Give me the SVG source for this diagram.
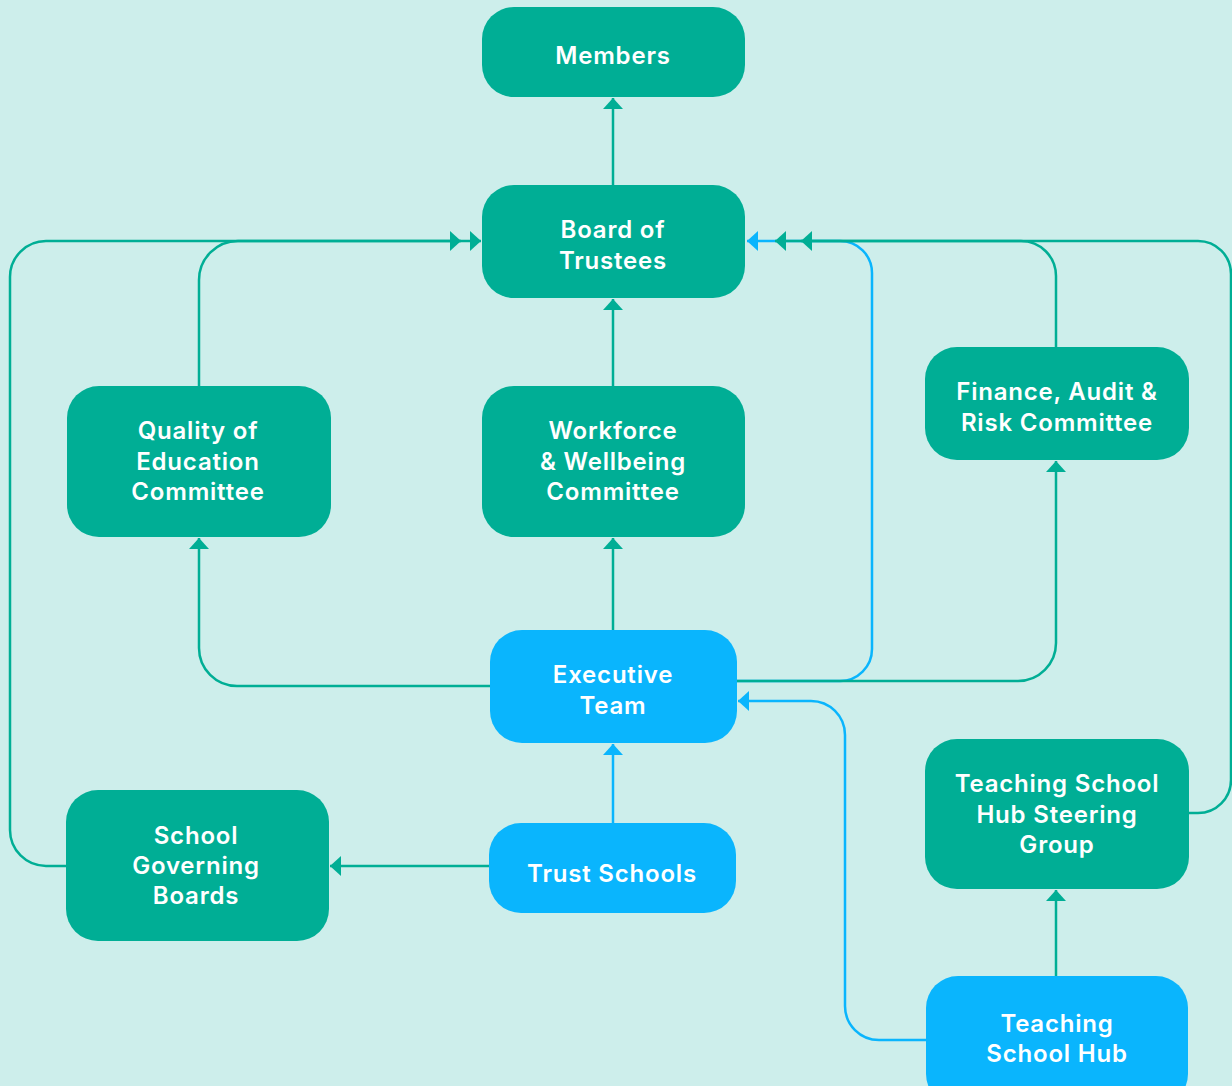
<svg xmlns="http://www.w3.org/2000/svg" width="1232" height="1086" viewBox="0 0 1232 1086">
<style>
.g{fill:#00ae95}
.b{fill:#0ab5fd}
.t{font-family:Inter,"Open Sans","Liberation Sans",sans-serif;font-weight:600;font-size:24px;letter-spacing:0.8px;fill:#ffffff;text-anchor:middle}
.cg{fill:none;stroke:#00ae95;stroke-width:2.5}
.cb{fill:none;stroke:#0ab5fd;stroke-width:2.5}
</style>
<defs>
<marker id="ag" markerUnits="userSpaceOnUse" markerWidth="12" markerHeight="20" refX="11" refY="10" orient="auto"><path d="M0,0 L11,10 L0,20 z" fill="#00ae95"/></marker>
<marker id="ab" markerUnits="userSpaceOnUse" markerWidth="12" markerHeight="20" refX="11" refY="10" orient="auto"><path d="M0,0 L11,10 L0,20 z" fill="#0ab5fd"/></marker>
</defs>
<rect width="1232" height="1086" fill="#cdeeeb"/>
<g id="connectors">
<path class="cb" d="M737,681 H840 A32,32 0 0 0 872,649 V273 A32,32 0 0 0 840,241 H747" marker-end="url(#ab)"/>
<path class="cb" d="M926,1040 H879 A34,34 0 0 1 845,1006 V735 A34,34 0 0 0 811,701 H738" marker-end="url(#ab)"/>
<path class="cb" d="M613,823 V744" marker-end="url(#ab)"/>
<path class="cg" d="M613,185 V98" marker-end="url(#ag)"/>
<path class="cg" d="M613,386 V299" marker-end="url(#ag)"/>
<path class="cg" d="M613,630 V538" marker-end="url(#ag)"/>
<path class="cg" d="M489,866 H330" marker-end="url(#ag)"/>
<path class="cg" d="M1056,976 V890" marker-end="url(#ag)"/>
<path class="cg" d="M490,686 H237 A38,38 0 0 1 199,648 V538" marker-end="url(#ag)"/>
<path class="cg" d="M737,681 H1018 A38,38 0 0 0 1056,643 V461" marker-end="url(#ag)"/>
<path class="cg" d="M199,386 V280 A39,39 0 0 1 238,241 H461" marker-end="url(#ag)"/>
<path class="cg" d="M66,866 H46 A36,36 0 0 1 10,830 V277 A36,36 0 0 1 46,241 H481" marker-end="url(#ag)"/>
<path class="cg" d="M1056,347 V276 A35,35 0 0 0 1021,241 H801" marker-end="url(#ag)"/>
<path class="cg" d="M1189,813 H1198 A33,33 0 0 0 1231,780 V274 A33,33 0 0 0 1198,241 H775" marker-end="url(#ag)"/>
</g>
<g id="members"><rect class="g" x="482" y="7" width="263" height="90" rx="32"/><text class="t" x="613" y="64">Members</text></g>
<g id="board"><rect class="g" x="482" y="185" width="263" height="113" rx="32"/><text class="t" x="613" y="238">Board of</text><text class="t" x="613" y="269">Trustees</text></g>
<g id="quality"><rect class="g" x="67" y="386" width="264" height="151" rx="32"/><text class="t" x="198" y="439">Quality of</text><text class="t" x="198" y="470">Education</text><text class="t" x="198" y="500">Committee</text></g>
<g id="workforce"><rect class="g" x="482" y="386" width="263" height="151" rx="32"/><text class="t" x="613" y="439">Workforce</text><text class="t" x="613" y="470">&amp; Wellbeing</text><text class="t" x="613" y="500">Committee</text></g>
<g id="finance"><rect class="g" x="925" y="347" width="264" height="113" rx="32"/><text class="t" x="1057" y="400">Finance, Audit &amp;</text><text class="t" x="1057" y="431">Risk Committee</text></g>
<g id="executive"><rect class="b" x="490" y="630" width="247" height="113" rx="32"/><text class="t" x="613" y="683">Executive</text><text class="t" x="613" y="714">Team</text></g>
<g id="governing"><rect class="g" x="66" y="790" width="263" height="151" rx="32"/><text class="t" x="196" y="844">School</text><text class="t" x="196" y="874">Governing</text><text class="t" x="196" y="904">Boards</text></g>
<g id="trust"><rect class="b" x="489" y="823" width="247" height="90" rx="32"/><text class="t" x="612" y="882">Trust Schools</text></g>
<g id="steering"><rect class="g" x="925" y="739" width="264" height="150" rx="32"/><text class="t" x="1057" y="792">Teaching School</text><text class="t" x="1057" y="823">Hub Steering</text><text class="t" x="1057" y="853">Group</text></g>
<g id="hub"><rect class="b" x="926" y="976" width="262" height="130" rx="32"/><text class="t" x="1057" y="1032">Teaching</text><text class="t" x="1057" y="1062">School Hub</text></g>
</svg>
